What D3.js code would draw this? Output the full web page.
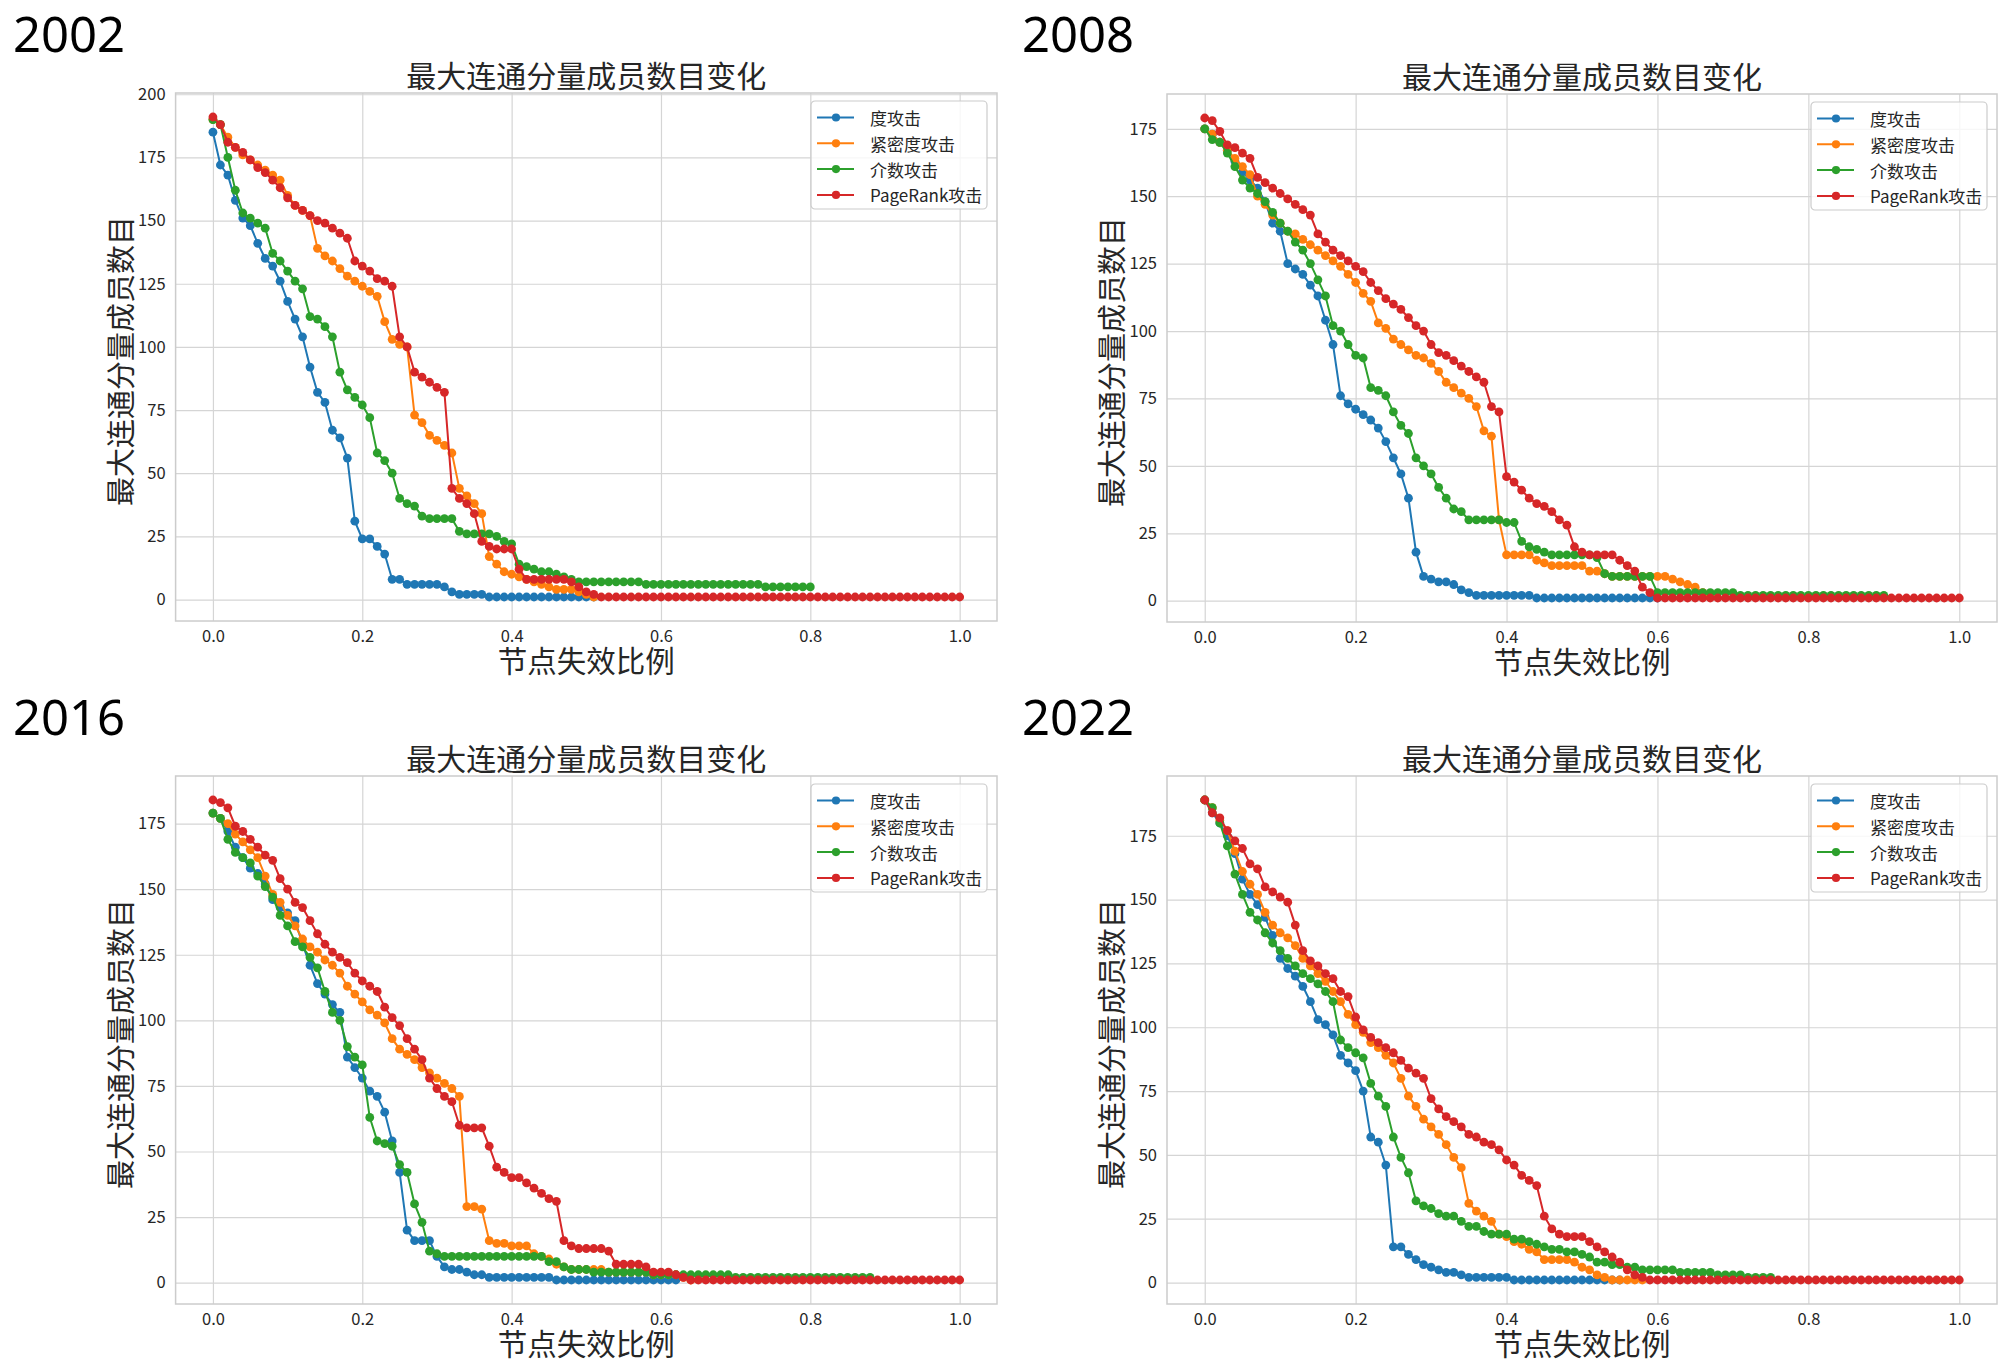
<!DOCTYPE html>
<html>
<head>
<meta charset="utf-8">
<script src="https://cdn.jsdelivr.net/npm/d3@7"></script>
<style>
  html, body { margin:0; padding:0; background:#fff; }
  svg { display:block; }
</style>
</head>
<body>
<svg id="chart" width="2000" height="1365"></svg>
<script>
/* ---------- Labels ---------- */
const years = ['2002', '2008', '2016', '2022'];
const attackNames = ['度攻击', '紧密度攻击', '介数攻击', 'PageRank攻击'];
const attackColors = ['#1f77b4', '#ff7f0e', '#2ca02c', '#d62728'];
const chartTitle = '最大连通分量成员数目变化';
const xAxisTitle = '节点失效比例';
const yAxisTitle = '最大连通分量成员数目';

const xTicks = [0, 0.2, 0.4, 0.6, 0.8, 1.0];
const yTicks2002 = [0, 25, 50, 75, 100, 125, 150, 175, 200];
const yTicksOther = [0, 25, 50, 75, 100, 125, 150, 175];

// every series is sampled at x = 0, 0.01, 0.02, ... (node failure ratio)
const xStep = 0.01;

/* ---------- 2002 ---------- */
const degree2002 = [185,172,168,158,151,148,141,135,132,126, 118,111,104,92,82,78,67,64,56,31,
  24,24,21,18,8,8,6,6,6,6, 6,5,3,2,2,2,2,1,1,1, 1,1,1,1,1,1,1,1,1,1, 1,1];
const closeness2002 = [190,188,183,179,176,174,172,170,168,166, 160,156,154,152,139,136,134,131,128,126,
  124,122,120,110,103,101,100,73,70,65, 63,61,58,44,41,38,34,17,14,11, 10,9,8,7,6,5,4,4,4,3, 2,1];
const betweenness2002 = [190,188,175,162,153,151,149,147,137,134, 130,126,123,112,111,108,104,90,83,80,
  77,72,58,55,50,40,38,37,33,32, 32,32,32,27,26,26,26,26,25,23, 22,14,13,12,11,11,10,9,8,7,
  7,7,7,7,7,7,7,7,6,6, 6,6,6,6,6,6,6,6,6,6, 6,6,6,6,5,5,5,5,5,5, 5];
const pagerank2002 = [191,188,181,179,177,174,171,169,166,163, 159,156,154,152,150,149,147,145,143,134,
  132,130,127,126,124,104,100,90,88,86, 84,82,44,40,38,34,23,21,20,20, 20,12,8,8,8,8,8,8,7,5,
  3,2,1,1,1,1,1,1,1,1, 1,1,1,1,1,1,1,1,1,1, 1,1,1,1,1,1,1,1,1,1, 1,1,1,1,1,1,1,1,1,1,
  1,1,1,1,1,1,1,1,1,1, 1];

/* ---------- 2008 ---------- */
const degree2008 = [175,173,170,167,163,159,156,153,148,140, 137,125,123,121,117,113,104,95,76,73,
  71,69,67,64,59,53,47,38,18,9, 8,7,7,6,4,3,2,2,2,2, 2,2,2,2,1,1,1,1,1,1, 1,1,1,1,1,1,1,1,1,1, 1];
const closeness2008 = [175,173,170,167,164,161,158,150,147,143, 140,137,136,134,132,130,128,126,124,121,
  118,114,111,103,101,97,95,93,91,90, 88,85,81,79,77,75,72,63,61,30, 17,17,17,17,15,14,13,13,13,13,
  13,11,11,10,9,9,9,9,9,9, 9,9,8,7,6,5,3,2];
const betweenness2008 = [175,171,170,166,161,156,153,151,148,144, 140,137,133,130,125,119,113,102,100,95,
  91,90,79,78,76,70,65,62,53,50, 47,42,38,34,33,30,30,30,30,30, 29,29,22,20,19,18,17,17,17,17,
  17,17,16,10,9,9,9,9,9,9, 3,3,3,3,3,3,3,3,3,3, 3,2,2,2,2,2,2,2,2,2, 2,2,2,2,2,2,2,2,2,2, 2];
const pagerank2008 = [179,178,174,169,168,166,164,157,155,153, 151,149,147,145,143,136,133,130,128,126,
  124,122,118,115,112,110,108,105,102,100, 95,92,91,89,87,85,83,81,72,70, 46,44,41,38,36,35,33,30,28,20,
  18,17,17,17,17,15,13,11,5,3, 1,1,1,1,1,1,1,1,1,1, 1,1,1,1,1,1,1,1,1,1, 1,1,1,1,1,1,1,1,1,1,
  1,1,1,1,1,1,1,1,1,1, 1];

/* ---------- 2016 ---------- */
const degree2016 = [179,177,172,166,162,158,156,152,146,143, 141,138,129,121,114,110,106,103,86,82,
  78,73,71,65,54,42,20,16,16,16, 10,6,5,5,4,3,3,2,2,2, 2,2,2,2,2,2,1,1,1,1, 1,1,1,1,1,1,1,1,1,1, 1,1,1];
const closeness2016 = [179,177,175,171,168,165,162,155,148,145, 140,136,131,128,126,123,121,118,113,110,
  107,104,102,99,93,89,87,85,82,80, 78,76,74,71,29,29,28,16,15,15, 14,14,14,11,10,9,7,6,5,5,
  5,5,5,4,4,4,4,4,4,3, 3,3,3,2,1];
const betweenness2016 = [179,177,169,164,162,160,155,151,147,140, 136,130,128,124,120,111,103,100,90,86,
  83,63,54,53,52,45,42,30,23,12, 11,10,10,10,10,10,10,10,10,10, 10,10,10,10,10,8,8,6,5,5,
  5,4,4,4,4,4,4,4,4,3, 3,3,3,3,3,3,3,3,3,3, 2,2,2,2,2,2,2,2,2,2, 2,2,2,2,2,2,2,2,2];
const pagerank2016 = [184,183,181,174,172,169,166,163,161,154, 150,145,143,138,133,129,126,124,122,118,
  115,113,111,105,101,98,93,89,85,78, 74,71,69,60,59,59,59,52,44,42, 40,40,38,36,34,32,31,16,14,13,
  13,13,13,12,7,7,7,7,6,4, 4,4,3,2,1,1,1,1,1,1, 1,1,1,1,1,1,1,1,1,1, 1,1,1,1,1,1,1,1,1,1,
  1,1,1,1,1,1,1,1,1,1, 1];

/* ---------- 2022 ---------- */
const degree2022 = [189,184,180,175,168,158,152,148,143,136, 127,123,120,116,110,103,101,97,89,86,
  83,75,57,55,46,14,14,11,9,7, 6,5,4,4,3,2,2,2,2,2, 2,1,1,1,1,1,1,1,1,1, 1,1,1,1,1,1];
const closeness2022 = [189,186,181,177,169,161,156,152,145,140, 137,135,132,127,124,121,118,114,110,105,
  101,98,94,92,89,86,80,73,69,64, 61,58,54,49,45,31,28,26,24,19, 18,16,15,13,12,9,9,9,9,8,
  6,5,3,2,1,1,1,1,1];
const betweenness2022 = [189,186,180,171,160,152,145,142,137,133, 130,127,124,121,119,117,114,110,95,92,
  90,88,78,73,69,57,49,43,32,30, 29,27,26,26,24,22,22,20,19,19, 19,17,17,16,15,14,13,13,12,12,
  11,10,8,8,7,7,6,6,5,5, 5,5,5,4,4,4,4,4,3,3, 3,3,2,2,2,2];
const pagerank2022 = [189,184,182,177,173,170,164,162,155,153, 151,149,140,130,126,124,121,119,114,112,
  104,99,96,94,92,90,87,84,82,80, 72,68,65,63,61,58,57,55,54,52, 48,46,42,40,38,26,21,19,18,18,
  18,16,14,12,10,8,5,3,2,1, 1,1,1,1,1,1,1,1,1,1, 1,1,1,1,1,1,1,1,1,1, 1,1,1,1,1,1,1,1,1,1,
  1,1,1,1,1,1,1,1,1,1, 1];

const seriesByYear = [
  [degree2002, closeness2002, betweenness2002, pagerank2002],
  [degree2008, closeness2008, betweenness2008, pagerank2008],
  [degree2016, closeness2016, betweenness2016, pagerank2016],
  [degree2022, closeness2022, betweenness2022, pagerank2022]
];
const yTicksByYear = [yTicks2002, yTicksOther, yTicksOther, yTicksOther];

/* ---------- Layout (pixel boxes of each axes) ---------- */
const panels = [
  { left:175.6, right:997,  top:93,  bottom:621,  yearX:13,   yearY:52  },
  { left:1167,  right:1997, top:94,  bottom:622,  yearX:1022, yearY:52  },
  { left:175.6, right:997,  top:776, bottom:1304, yearX:13,   yearY:735 },
  { left:1167,  right:1997, top:776, bottom:1304, yearX:1022, yearY:735 }
];

const cjkFont = "'Noto Sans CJK SC','Noto Sans',sans-serif";
const textColor = '#262626';
const gridColor = '#d5d5d5';

const svg = d3.select('#chart');
svg.append('rect').attr('width', 2000).attr('height', 1365).attr('fill', '#fff');

panels.forEach((p, pi) => {
  const series = seriesByYear[pi];
  const allVals = series.flat();
  const yMin = d3.min(allVals), yMax = d3.max(allVals);
  const pad = (yMax - yMin) * 0.05;   // matplotlib-style 5% margin

  const x = d3.scaleLinear().domain([-0.05, 1.05]).range([p.left, p.right]);
  const y = d3.scaleLinear().domain([yMin - pad, yMax + pad]).range([p.bottom, p.top]);
  const w = p.right - p.left, h = p.bottom - p.top;

  const g = svg.append('g');

  // year label
  g.append('text')
    .attr('x', p.yearX).attr('y', p.yearY)
    .style('font-family', "'Noto Sans','Open Sans',sans-serif")
    .style('font-size', '49px').style('fill', '#000')
    .text(years[pi]);

  // x grid + tick labels
  const xAxis = d3.axisBottom(x).tickValues(xTicks)
    .tickFormat(d3.format('.1f')).tickSize(-h).tickPadding(9);
  const xg = g.append('g').attr('transform', `translate(0,${p.bottom})`).call(xAxis);
  xg.select('.domain').remove();
  xg.selectAll('line').attr('stroke', gridColor).attr('stroke-width', 1.2);
  xg.selectAll('text').style('font-family', cjkFont).style('font-size', '16.5px').style('fill', textColor);

  // y grid + tick labels
  const yAxis = d3.axisLeft(y).tickValues(yTicksByYear[pi])
    .tickFormat(d3.format('d')).tickSize(-w).tickPadding(10);
  const yg = g.append('g').attr('transform', `translate(${p.left},0)`).call(yAxis);
  yg.select('.domain').remove();
  yg.selectAll('line').attr('stroke', gridColor).attr('stroke-width', 1.2);
  yg.selectAll('text').style('font-family', cjkFont).style('font-size', '16.5px').style('fill', textColor);

  // frame
  g.append('rect')
    .attr('x', p.left).attr('y', p.top).attr('width', w).attr('height', h)
    .attr('fill', 'none').attr('stroke', '#cccccc').attr('stroke-width', 1.5);

  // clip
  const clipId = 'clip' + pi;
  g.append('clipPath').attr('id', clipId)
    .append('rect').attr('x', p.left).attr('y', p.top).attr('width', w).attr('height', h);

  const plot = g.append('g').attr('clip-path', `url(#${clipId})`);
  const line = d3.line().x((d, i) => x(i * xStep)).y(d => y(d));

  series.forEach((vals, si) => {
    const sg = plot.append('g');
    sg.append('path').datum(vals)
      .attr('d', line).attr('fill', 'none')
      .attr('stroke', attackColors[si]).attr('stroke-width', 2);
    sg.selectAll('circle').data(vals).enter().append('circle')
      .attr('cx', (d, i) => x(i * xStep)).attr('cy', d => y(d))
      .attr('r', 4.4).attr('fill', attackColors[si]);
  });

  // title
  g.append('text')
    .attr('x', (p.left + p.right) / 2).attr('y', p.top - 19)
    .attr('text-anchor', 'middle').attr('dominant-baseline', 'central')
    .style('font-family', cjkFont).style('font-size', '30px').style('fill', textColor)
    .text(chartTitle);

  // x label (explicit baseline)
  g.append('text')
    .attr('x', (p.left + p.right) / 2).attr('y', p.bottom + 51)
    .attr('text-anchor', 'middle')
    .style('font-family', cjkFont).style('font-size', '29.5px').style('fill', textColor)
    .text(xAxisTitle);

  // y label
  const ylx = p.left - 57, yly = (p.top + p.bottom) / 2 + 4;
  g.append('text')
    .attr('x', ylx).attr('y', yly)
    .attr('transform', `rotate(-90,${ylx},${yly})`)
    .attr('text-anchor', 'middle').attr('dominant-baseline', 'central')
    .style('font-family', cjkFont).style('font-size', '29px').style('fill', textColor)
    .text(yAxisTitle);

  // legend
  const lw = 176, lh = 108;
  const lg = g.append('g').attr('transform', `translate(${p.right - 10 - lw},${p.top + 8})`);
  lg.append('rect').attr('width', lw).attr('height', lh).attr('rx', 4)
    .attr('fill', '#fff').attr('fill-opacity', 0.8)
    .attr('stroke', '#cccccc').attr('stroke-width', 1.2);
  attackNames.forEach((name, i) => {
    const ry = 16.5 + i * 25.8;
    lg.append('line').attr('x1', 6).attr('x2', 43).attr('y1', ry).attr('y2', ry)
      .attr('stroke', attackColors[i]).attr('stroke-width', 2);
    lg.append('circle').attr('cx', 25).attr('cy', ry).attr('r', 4.1).attr('fill', attackColors[i]);
    lg.append('text').attr('x', 59).attr('y', ry)
      .attr('dominant-baseline', 'central')
      .style('font-family', cjkFont).style('font-size', '17px').style('fill', textColor)
      .text(name);
  });
});
</script>
</body>
</html>
